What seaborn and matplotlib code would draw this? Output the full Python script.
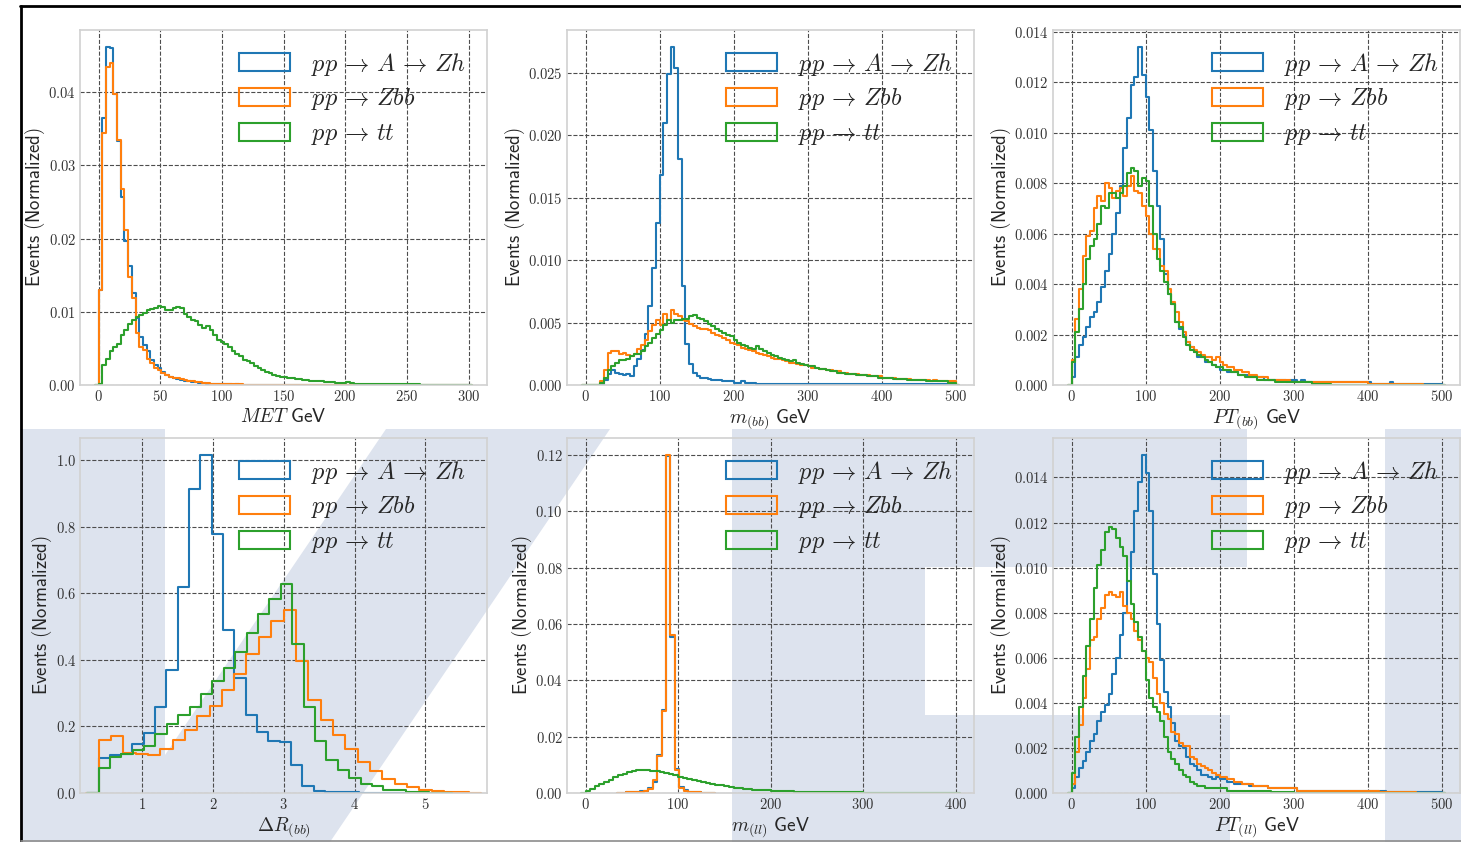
import numpy as np
import pandas as pd
import matplotlib
matplotlib.use('Agg')
import matplotlib.pyplot as plt
from matplotlib.patches import Patch, Polygon
from matplotlib.lines import Line2D
from matplotlib.ticker import MultipleLocator
import seaborn as sns

# ---------------- data (normalized bin heights) ----------------
labels = [r'$pp\,\rightarrow\,A\,\rightarrow\,Zh$', r'$pp\,\rightarrow\,Zbb$', r'$pp\,\rightarrow\,tt$']

# MET, 3 GeV bins from 0
met_lo, met_width = 0.0, 3.0
met_zh = [0.0130, 0.0365, 0.0462, 0.0461, 0.0398, 0.0333, 0.0257, 0.0197, 0.0162, 0.0126,
          0.0091, 0.0066, 0.0055, 0.0046, 0.0034, 0.0027, 0.0023, 0.0018, 0.0014, 0.0011,
          0.0009, 0.0008, 0.0007, 0.0006, 0.0005, 0.0004, 0.0004, 0.0003, 0.0003, 0.0002,
          0.0002, 0.0002, 0.0001, 0.0001, 0.0001, 0.0001, 0.0000, 0.0001, 0.0000, 0.0000,
          0, 0, 0, 0, 0, 0, 0, 0, 0, 0,
          0, 0, 0, 0, 0, 0, 0, 0, 0, 0,
          0, 0, 0, 0, 0, 0, 0, 0, 0, 0,
          0, 0, 0, 0, 0, 0, 0, 0, 0, 0,
          0, 0, 0, 0, 0, 0, 0, 0, 0, 0,
          0, 0, 0, 0, 0, 0, 0, 0, 0, 0]
met_zbb = [0.0130, 0.0345, 0.0435, 0.0440, 0.0397, 0.0335, 0.0268, 0.0212, 0.0147, 0.0119,
           0.0071, 0.0052, 0.0048, 0.0036, 0.0030, 0.0023, 0.0021, 0.0016, 0.0014, 0.0011,
           0.0010, 0.0009, 0.0008, 0.0007, 0.0006, 0.0005, 0.0004, 0.0004, 0.0003, 0.0003,
           0.0002, 0.0002, 0.0002, 0.0001, 0.0001, 0.0001, 0.0001, 0.0001, 0.0001, 0.0000,
           0, 0, 0, 0, 0, 0, 0, 0, 0, 0,
           0, 0, 0, 0, 0, 0, 0, 0, 0, 0,
           0, 0, 0, 0, 0, 0, 0, 0, 0, 0,
           0, 0, 0, 0, 0, 0, 0, 0, 0, 0,
           0, 0, 0, 0, 0, 0, 0, 0, 0, 0,
           0, 0, 0, 0, 0, 0, 0, 0, 0, 0]
met_tt = [0.0002, 0.0027, 0.0036, 0.0046, 0.0052, 0.0056, 0.0068, 0.0075, 0.0083, 0.0089,
          0.0093, 0.0096, 0.0098, 0.0102, 0.0104, 0.0105, 0.0108, 0.0107, 0.0103, 0.0102,
          0.0105, 0.0106, 0.0105, 0.0097, 0.0093, 0.0089, 0.0087, 0.0082, 0.0078, 0.0080,
          0.0075, 0.0068, 0.0062, 0.0059, 0.0056, 0.0052, 0.0046, 0.0042, 0.0039, 0.0034,
          0.0033, 0.0030, 0.0026, 0.0023, 0.0021, 0.0018, 0.0017, 0.0014, 0.0012, 0.0011,
          0.0011, 0.0010, 0.0009, 0.0008, 0.0008, 0.0007, 0.0007, 0.0006, 0.0006, 0.0005,
          0.0005, 0.0004, 0.0004, 0.0004, 0.0003, 0.0003, 0.0003, 0.0004, 0.0003, 0.0002,
          0.0002, 0.0002, 0.0002, 0.0002, 0.0001, 0.0001, 0.0001, 0.0001, 0.0001, 0.0001,
          0.0001, 0.0001, 0.0001, 0.0001, 0.0001, 0.0001, 0.0001, 0.0000, 0.0000, 0.0000,
          0, 0, 0, 0, 0, 0, 0, 0, 0, 0]

# m(bb), 5 GeV bins from 0
mbb_lo, mbb_width = 0.0, 5.0
mbb_zh = [0, 0, 0, 0, 0.0001, 0.0004, 0.0009, 0.0012, 0.0010, 0.0009,
          0.0008, 0.0009, 0.0007, 0.0015, 0.0021, 0.0028, 0.0041, 0.0063, 0.0094, 0.0130,
          0.0168, 0.0210, 0.0249, 0.0271, 0.0254, 0.0181, 0.0079, 0.0033, 0.0017, 0.0010,
          0.0007, 0.0006, 0.0006, 0.0005, 0.0004, 0.0004, 0.0004, 0.0003, 0.0003, 0.0003,
          0.0002, 0.0002, 0.0003, 0.0002, 0.0002, 0.0002, 0.0001, 0.0001, 0.0001, 0.0001,
          0.0001, 0.0001, 0.0001, 0.0001, 0.0001, 0.0001, 0.0001, 0.0001, 0.0001, 0.0001,
          0.0001, 0.0001, 0.0001, 0.0001, 0.0001, 0.0001, 0.0001, 0.0001, 0.0001, 0.0001,
          0.00005, 0.00005, 0.00005, 0.00005, 0.00005, 0.00005, 0.00005, 0.00005, 0.00005, 0.00005,
          0.00005, 0.00005, 0.00005, 0.00005, 0.00005, 0.00005, 0.00005, 0.00005, 0.00005, 0.00005,
          0.00005, 0.00005, 0.00005, 0.00005, 0.00005, 0.00005, 0.00005, 0.00005, 0.00005, 0.00005]
mbb_zbb = [0, 0, 0, 0, 0.0003, 0.0012, 0.0026, 0.0027, 0.0027, 0.0025,
           0.0026, 0.0024, 0.0023, 0.0025, 0.0029, 0.0032, 0.0036, 0.0043, 0.0048, 0.0052,
           0.0048, 0.0057, 0.0052, 0.0060, 0.0057, 0.0055, 0.0052, 0.0051, 0.0049, 0.0047,
           0.0046, 0.0045, 0.0045, 0.0044, 0.0042, 0.0040, 0.0039, 0.0038, 0.0036, 0.0034,
           0.0033, 0.0032, 0.0030, 0.0029, 0.0028, 0.0027, 0.0026, 0.0025, 0.0024, 0.0023,
           0.0022, 0.0021, 0.0021, 0.0020, 0.0019, 0.0018, 0.0018, 0.0017, 0.0016, 0.0016,
           0.0015, 0.0014, 0.0014, 0.0013, 0.0013, 0.0012, 0.0012, 0.0011, 0.0011, 0.0010,
           0.0010, 0.0009, 0.0009, 0.0009, 0.0008, 0.0008, 0.0008, 0.0007, 0.0007, 0.0007,
           0.0006, 0.0006, 0.0006, 0.0006, 0.0005, 0.0005, 0.0005, 0.0005, 0.0004, 0.0004,
           0.0004, 0.0004, 0.0004, 0.0003, 0.0004, 0.0003, 0.0003, 0.0003, 0.0003, 0.0003]
mbb_tt = [0, 0, 0, 0, 0.0002, 0.0006, 0.0012, 0.0015, 0.0018, 0.0020,
          0.0020, 0.0021, 0.0023, 0.0025, 0.0025, 0.0027, 0.0031, 0.0034, 0.0038, 0.0041,
          0.0044, 0.0048, 0.0052, 0.0050, 0.0052, 0.0052, 0.0053, 0.0053, 0.0055, 0.0056,
          0.0054, 0.0053, 0.0051, 0.0049, 0.0047, 0.0045, 0.0043, 0.0042, 0.0040, 0.0039,
          0.0036, 0.0034, 0.0032, 0.0031, 0.0030, 0.0029, 0.0031, 0.0029, 0.0027, 0.0026,
          0.0024, 0.0023, 0.0022, 0.0021, 0.0020, 0.0019, 0.0020, 0.0018, 0.0017, 0.0016,
          0.0015, 0.0015, 0.0014, 0.0013, 0.0013, 0.0012, 0.0011, 0.0011, 0.0010, 0.0010,
          0.0009, 0.0009, 0.0009, 0.0008, 0.0008, 0.0008, 0.0007, 0.0007, 0.0007, 0.0006,
          0.0006, 0.0006, 0.0006, 0.0005, 0.0005, 0.0005, 0.0005, 0.0004, 0.0004, 0.0004,
          0.0004, 0.0004, 0.0003, 0.0003, 0.0003, 0.0003, 0.0003, 0.0003, 0.0002, 0.0002]

# PT(bb), 5 GeV bins from 0
ptbb_lo, ptbb_width = 0.0, 5.0
ptbb_zh = [0.0003, 0.0011, 0.0016, 0.0019, 0.0023, 0.0027, 0.0029, 0.0033, 0.0039, 0.0045,
           0.0052, 0.0060, 0.0068, 0.0079, 0.0094, 0.0106, 0.0119, 0.0122, 0.0134, 0.0123,
           0.0114, 0.0101, 0.0085, 0.0071, 0.0058, 0.0044, 0.0036, 0.0032, 0.0025, 0.0022,
           0.0020, 0.0017, 0.0015, 0.0013, 0.0011, 0.0011, 0.0009, 0.0009, 0.0008, 0.0007,
           0.0006, 0.0006, 0.0005, 0.0005, 0.0005, 0.0004, 0.0004, 0.0004, 0.0003, 0.0003,
           0.0003, 0.0003, 0.0002, 0.0002, 0.0002, 0.0002, 0.0002, 0.0002, 0.0001, 0.0002,
           0.0002, 0.0001, 0.0002, 0.0001, 0.0001, 0.0001, 0.0001, 0.0001, 0.0001, 0.0001,
           0.0001, 0.0001, 0.0001, 0.0001, 0.0001, 0.0001, 0.0001, 0.0001, 0.0001, 0.0001,
           0.0001, 0.00005, 0.00005, 0.00005, 0.00005, 0.00005, 0.0001, 0.00005, 0.00005, 0.00005,
           0.00005, 0.00005, 0.00005, 0.00005, 0.00005, 0.00005, 0.00005, 0.00005, 0.00005, 0.00005]
ptbb_zbb = [0.0010, 0.0026, 0.0038, 0.0051, 0.0059, 0.0061, 0.0070, 0.0075, 0.0073, 0.0080,
            0.0078, 0.0074, 0.0077, 0.0078, 0.0075, 0.0079, 0.0083, 0.0077, 0.0076, 0.0071,
            0.0067, 0.0060, 0.0054, 0.0054, 0.0047, 0.0045, 0.0038, 0.0033, 0.0029, 0.0025,
            0.0021, 0.0017, 0.0015, 0.0014, 0.0013, 0.0012, 0.0011, 0.0011, 0.0010, 0.0011,
            0.0009, 0.0008, 0.0007, 0.0007, 0.0006, 0.0006, 0.0005, 0.0005, 0.0004, 0.0004,
            0.0003, 0.0003, 0.0003, 0.0002, 0.0002, 0.0002, 0.0002, 0.0002, 0.0002, 0.0001,
            0.0001, 0.0001, 0.0001, 0.0001, 0.0001, 0.0001, 0.0001, 0.0001, 0.0001, 0.0001,
            0.0001, 0.0001, 0.0001, 0.0001, 0.0001, 0.0001, 0.0001, 0.0001, 0.0001, 0.0001,
            0.00005, 0.00005, 0.00005, 0.00005, 0.00005, 0.00005, 0.00005, 0.00005, 0.00005, 0.00005,
            0.00005, 0.00005, 0.00005, 0.00005, 0.00005, 0.0, 0.0, 0.0, 0.0, 0.0]
ptbb_tt = [0.0009, 0.0021, 0.0030, 0.0040, 0.0050, 0.0055, 0.0058, 0.0064, 0.0071, 0.0070,
           0.0076, 0.0076, 0.0074, 0.0076, 0.0079, 0.0084, 0.0086, 0.0085, 0.0079, 0.0082,
           0.0081, 0.0071, 0.0060, 0.0050, 0.0045, 0.0041, 0.0036, 0.0032, 0.0025, 0.0023,
           0.0019, 0.0016, 0.0014, 0.0013, 0.0012, 0.0011, 0.0010, 0.0009, 0.0008, 0.0007,
           0.0007, 0.0006, 0.0006, 0.0005, 0.0005, 0.0004, 0.0004, 0.0003, 0.0003, 0.0003,
           0.0002, 0.0002, 0.0002, 0.0002, 0.0002, 0.0001, 0.0001, 0.0001, 0.0001, 0.0001,
           0.0001, 0.0001, 0.0001, 0.0001, 0.0001, 0.00005, 0.00005, 0.00005, 0.00005, 0.00005,
           0, 0, 0, 0, 0, 0, 0, 0, 0, 0,
           0, 0, 0, 0, 0, 0, 0, 0, 0, 0,
           0, 0, 0, 0, 0, 0, 0, 0, 0, 0]

# Delta R(bb), 30 bins per sample, each with its own width
drbb_lo = 0.384
drbb_width_zh, drbb_width_zbb, drbb_width_tt = 0.160, 0.1742, 0.161
drbb_zh = [0.105, 0.115, 0.117, 0.147, 0.180, 0.258, 0.368, 0.618, 0.913, 1.015,
           0.777, 0.490, 0.345, 0.235, 0.183, 0.155, 0.152, 0.083, 0.020, 0.005,
           0.003, 0.003, 0.002, 0.001, 0.001, 0.0005, 0.0, 0.0, 0.0, 0.0005]
drbb_zbb = [0.160, 0.170, 0.120, 0.117, 0.115, 0.133, 0.160, 0.188, 0.232, 0.262,
            0.310, 0.358, 0.417, 0.468, 0.517, 0.548, 0.395, 0.280, 0.220, 0.175,
            0.132, 0.092, 0.065, 0.043, 0.027, 0.017, 0.010, 0.006, 0.004, 0.002]
drbb_tt = [0.075, 0.107, 0.118, 0.128, 0.140, 0.178, 0.207, 0.233, 0.258, 0.297,
           0.335, 0.375, 0.422, 0.480, 0.538, 0.583, 0.628, 0.447, 0.257, 0.157,
           0.100, 0.068, 0.045, 0.028, 0.020, 0.010, 0.008, 0.004, 0.002, 0.001]

# m(ll): signal and Zbb peak with 4.77 GeV bins, ttbar with 5 GeV bins from 0
mll_lo_z, mll_width_z = 39.3, 4.77
mll_lo_tt, mll_width_tt = 0.0, 5.0
mll_zh = [0.0001, 0.0002, 0.0003, 0.0004, 0.0006, 0.0008, 0.0017, 0.0040, 0.0135, 0.0295,
          0.1195, 0.0555, 0.0085, 0.0020, 0.0009, 0.0005, 0.0003, 0.0002, 0.0001, 0.0001]
mll_zbb = [0.0001, 0.0002, 0.0002, 0.0004, 0.0005, 0.0008, 0.0015, 0.0045, 0.0130, 0.0290,
           0.1200, 0.0560, 0.0083, 0.0018, 0.0008, 0.0005, 0.0003, 0.0002, 0.0001, 0.0001]
mll_tt = [0.0006, 0.0014, 0.0024, 0.0032, 0.0039, 0.0047, 0.0056, 0.0063, 0.0069, 0.0073,
          0.0079, 0.0083, 0.0083, 0.0081, 0.0077, 0.0079, 0.0075, 0.0071, 0.0068, 0.0063,
          0.0057, 0.0053, 0.0050, 0.0047, 0.0044, 0.0039, 0.0036, 0.0033, 0.0030, 0.0027,
          0.0024, 0.0021, 0.0019, 0.0017, 0.0015, 0.0014, 0.0012, 0.0011, 0.0009, 0.0009,
          0.0008, 0.0007, 0.0007, 0.0006, 0.0006, 0.0005, 0.0005, 0.0004, 0.0004, 0.0004,
          0.0003, 0.0003, 0.0003, 0.0003, 0.0002, 0.0002, 0.0002, 0.0002, 0.0002, 0.0002,
          0.0001, 0.0001, 0.0001, 0.0001, 0.0001, 0.0001, 0.0001, 0.0001, 0.0001, 0.0001,
          0.0001, 0.0001, 0.0001, 0.0001, 0.0001, 0.00005, 0.00005, 0.00005, 0.00005, 0.00005]

# PT(ll), 5 GeV bins from 0
ptll_lo, ptll_width = 0.0, 5.0
ptll_zh = [0.0002, 0.0007, 0.0011, 0.0014, 0.0018, 0.0023, 0.0026, 0.0032, 0.0036, 0.0039,
           0.0044, 0.0053, 0.0060, 0.0070, 0.0080, 0.0094, 0.0107, 0.0125, 0.0138, 0.0150,
           0.0142, 0.0125, 0.0097, 0.0075, 0.0059, 0.0045, 0.0038, 0.0031, 0.0023, 0.0021,
           0.0020, 0.0016, 0.0013, 0.0012, 0.0010, 0.0008, 0.0008, 0.0007, 0.0006, 0.0007,
           0.0006, 0.0006, 0.0005, 0.0005, 0.0004, 0.0004, 0.0004, 0.0004, 0.0003, 0.0003,
           0.0003, 0.0003, 0.0003, 0.0002, 0.0002, 0.0002, 0.0002, 0.0002, 0.0002, 0.0002,
           0.0002, 0.0001, 0.0001, 0.0001, 0.0001, 0.0001, 0.0001, 0.0001, 0.0001, 0.0001,
           0.0001, 0.0001, 0.0001, 0.0001, 0.0001, 0.0001, 0.0001, 0.0001, 0.0001, 0.0001,
           0.0001, 0.0001, 0.0001, 0.0001, 0.0001, 0.00005, 0.00005, 0.00005, 0.00005, 0.00005,
           0.00005, 0.00005, 0.00005, 0.00005, 0.00005, 0.00005, 0.00005, 0.00005, 0.00005, 0.00005]
ptll_zbb = [0.0004, 0.0018, 0.0030, 0.0042, 0.0055, 0.0068, 0.0069, 0.0077, 0.0082, 0.0088,
            0.0089, 0.0088, 0.0087, 0.0089, 0.0083, 0.0080, 0.0077, 0.0072, 0.0068, 0.0063,
            0.0060, 0.0058, 0.0051, 0.0044, 0.0040, 0.0035, 0.0033, 0.0027, 0.0026, 0.0022,
            0.0021, 0.0021, 0.0016, 0.0015, 0.0013, 0.0012, 0.0011, 0.0010, 0.0009, 0.0008,
            0.0007, 0.0007, 0.0006, 0.0006, 0.0005, 0.0005, 0.0004, 0.0004, 0.0004, 0.0003,
            0.0003, 0.0003, 0.0003, 0.0002, 0.0002, 0.0002, 0.0002, 0.0002, 0.0002, 0.0002,
            0.0002, 0.0001, 0.0001, 0.0001, 0.0001, 0.0001, 0.0001, 0.0001, 0.0001, 0.0001,
            0.0001, 0.0001, 0.0001, 0.0001, 0.0001, 0.0001, 0.0001, 0.0001, 0.0001, 0.0001,
            0.0001, 0.0001, 0.0001, 0.00005, 0.00005, 0.00005, 0.00005, 0.00005, 0.00005, 0.00005,
            0.00005, 0.00005, 0.00005, 0.0, 0.0, 0.0, 0.0, 0.0, 0.0, 0.0]
ptll_tt = [0.0009, 0.0025, 0.0038, 0.0052, 0.0065, 0.0077, 0.0091, 0.0101, 0.0108, 0.0116,
           0.0118, 0.0117, 0.0113, 0.0109, 0.0105, 0.0094, 0.0084, 0.0076, 0.0069, 0.0063,
           0.0050, 0.0042, 0.0038, 0.0036, 0.0032, 0.0025, 0.0018, 0.0015, 0.0013, 0.0010,
           0.0008, 0.0007, 0.0005, 0.0004, 0.0003, 0.0003, 0.0002, 0.0002, 0.0002, 0.0002,
           0.0002, 0.0002, 0.0001, 0.0001, 0.0001, 0.0001, 0.0001, 0.0001, 0.0001, 0.0001,
           0.0001, 0.0001, 0.0001, 0.0001, 0.00005, 0.00005, 0.00005, 0.00005, 0.00005, 0.00005,
           0, 0, 0, 0, 0, 0, 0, 0, 0, 0,
           0, 0, 0, 0, 0, 0, 0, 0, 0, 0,
           0, 0, 0, 0, 0, 0, 0, 0, 0, 0,
           0, 0, 0, 0, 0, 0, 0, 0, 0, 0]

# ---------------- style ----------------
sns.set_style('whitegrid')
plt.rcParams['mathtext.fontset'] = 'cm'
plt.rcParams['axes.formatter.use_mathtext'] = True
colors = sns.color_palette('tab10')[:3]

W, H = 1461, 842
fig = plt.figure(figsize=(W / 100, H / 100), dpi=100)
fig.patch.set_facecolor('white')


def fx(x):
    return x / W


def fy(y):
    return 1 - y / H


# light watermark behind the lower row
wm = '#dde3ee'
wm_shapes = [
    [(21, 429), (165, 429), (165, 842), (21, 842)],
    [(386, 429), (610, 429), (330, 842), (106, 842)],
    [(732, 429), (1247, 429), (1247, 567), (925, 567), (925, 715),
     (1230, 715), (1230, 842), (732, 842)],
    [(1385, 429), (1461, 429), (1461, 842), (1385, 842)],
]
for pts in wm_shapes:
    fig.patches.append(Polygon([(fx(x), fy(y)) for x, y in pts], closed=True,
                               transform=fig.transFigure, facecolor=wm,
                               edgecolor='none', zorder=-5))

# frame lines of the screenshot
fig.add_artist(Line2D([fx(20), fx(1461)], [fy(6), fy(6)], color='black', lw=2.0,
                      transform=fig.transFigure, zorder=10))
fig.add_artist(Line2D([fx(21), fx(21)], [fy(6), fy(842)], color='black', lw=2.0,
                      transform=fig.transFigure, zorder=10))
fig.add_artist(Line2D([fx(21), fx(1461)], [fy(840.5), fy(840.5)], color='0.55', lw=1.2,
                      transform=fig.transFigure, zorder=10))

panels = [
    (r'$MET\ \mathsf{GeV}$', 50,
     [(met_lo, met_width, met_zh), (met_lo, met_width, met_zbb), (met_lo, met_width, met_tt)]),
    (r'$m_{(bb)}\ \mathsf{GeV}$', 100,
     [(mbb_lo, mbb_width, mbb_zh), (mbb_lo, mbb_width, mbb_zbb), (mbb_lo, mbb_width, mbb_tt)]),
    (r'$PT_{(bb)}\ \mathsf{GeV}$', 100,
     [(ptbb_lo, ptbb_width, ptbb_zh), (ptbb_lo, ptbb_width, ptbb_zbb), (ptbb_lo, ptbb_width, ptbb_tt)]),
    (r'$\Delta R_{(bb)}$', 1,
     [(drbb_lo, drbb_width_zh, drbb_zh), (drbb_lo, drbb_width_zbb, drbb_zbb), (drbb_lo, drbb_width_tt, drbb_tt)]),
    (r'$m_{(ll)}\ \mathsf{GeV}$', 100,
     [(mll_lo_z, mll_width_z, mll_zh), (mll_lo_z, mll_width_z, mll_zbb), (mll_lo_tt, mll_width_tt, mll_tt)]),
    (r'$PT_{(ll)}\ \mathsf{GeV}$', 100,
     [(ptll_lo, ptll_width, ptll_zh), (ptll_lo, ptll_width, ptll_zbb), (ptll_lo, ptll_width, ptll_tt)]),
]

col_left = [80, 567, 1053]
row_top = [30, 438]
ax_w, ax_h = 407, 355

for i, (xlabel, xstep, series) in enumerate(panels):
    left = col_left[i % 3]
    top = row_top[i // 3]
    ax = fig.add_axes([fx(left), fy(top + ax_h), ax_w / W, ax_h / H])
    ax.set_facecolor('none')

    ymax = 0
    xmin, xmax = np.inf, -np.inf
    for (lo, width, heights), c in zip(series, colors):
        heights = np.asarray(heights, dtype=float)
        n = len(heights)
        # one empty bin on each side so the outline drops back to zero
        edges = lo + width * np.arange(-1, n + 2)
        df = pd.DataFrame({'x': edges[:-1] + width / 2, 'w': np.r_[0.0, heights, 0.0]})
        sns.histplot(data=df, x='x', weights='w', bins=list(edges),
                     element='step', fill=False, color=c, linewidth=1.5, ax=ax)
        ymax = max(ymax, heights.max())
        xmin = min(xmin, lo)
        xmax = max(xmax, lo + width * n)

    span = xmax - xmin
    ax.set_xlim(xmin - 0.05 * span, xmax + 0.05 * span)
    ax.set_ylim(0, ymax * 1.05)
    ax.xaxis.set_major_locator(MultipleLocator(xstep))

    ax.grid(True, color='0.3', linestyle='--', linewidth=0.8)
    for s in ax.spines.values():
        s.set_color('0.82')
        s.set_linewidth(1.2)
    ax.tick_params(length=0, labelsize=10.5, labelcolor='0.2', pad=3,
                   labelfontfamily='cmr10')

    ax.set_xlabel(xlabel, fontsize=14, color='0.15', labelpad=2)
    ax.set_ylabel(r'$\mathsf{Events\ (Normalized)}$', fontsize=13.5, color='0.15', labelpad=1)

    handles = [Patch(facecolor='none', edgecolor=c, linewidth=1.5) for c in colors]
    ax.legend(handles, labels, loc='upper right', frameon=False, fontsize=17.5,
              handlelength=2.1, handleheight=0.78, handletextpad=0.85,
              labelspacing=0.36, borderaxespad=0.45)

fig.savefig('out.png', dpi=100, facecolor='white')
